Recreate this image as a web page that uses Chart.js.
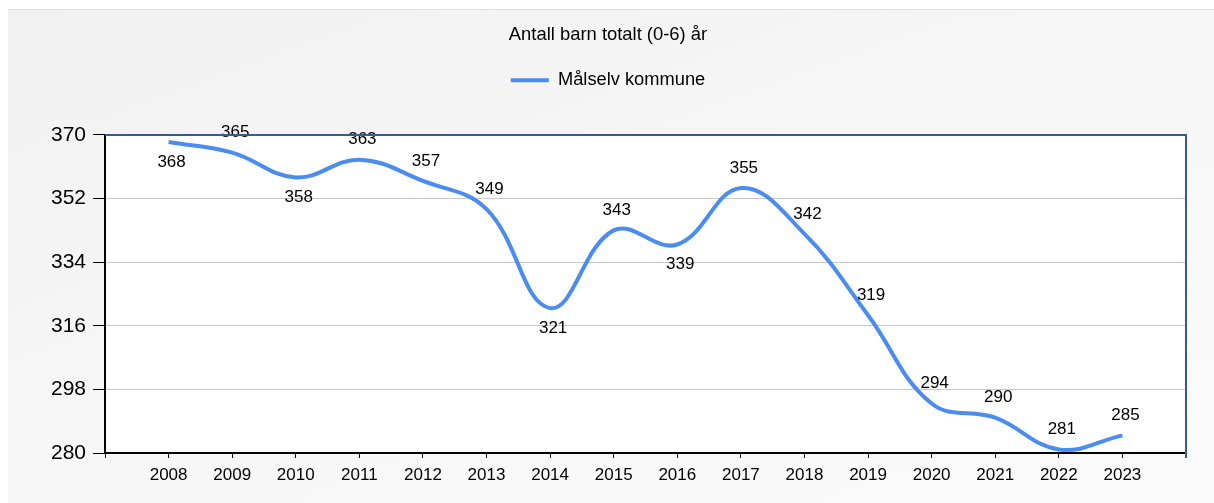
<!DOCTYPE html>
<html>
<head>
<meta charset="utf-8">
<script src="https://cdn.jsdelivr.net/npm/chart.js@4.4.1/dist/chart.umd.min.js"></script>
<style>
    html, body { margin: 0; padding: 0; background: #fff; }
    body { width: 1214px; height: 503px; position: relative; overflow: hidden; }
    #panel {
        position: absolute; left: 8px; top: 9px; right: 0; bottom: 0;
        border-top: 1px solid #e0e0e0;
        background: linear-gradient(160deg, #f1f1f1 0%, #f6f6f6 45%, #fbfbfb 100%);
    }
    #wrap { position: absolute; left: 0; top: 0; width: 1214px; height: 503px; }
</style>
</head>
<body>
<div id="panel"></div>
<div id="wrap"><canvas id="chart"></canvas></div>
<script>
const years = [2008, 2009, 2010, 2011, 2012, 2013, 2014, 2015, 2016, 2017, 2018, 2019, 2020, 2021, 2022, 2023];
const children = [368, 365, 358, 363, 357, 349, 321, 343, 339, 355, 342, 319, 294, 290, 281, 285];
const yTicks = [280, 298, 316, 334, 352, 370];
const xTicks = [2007].concat(years, [2024]);

const FONT = "'Liberation Sans', Arial, sans-serif";

// white plot area
const plotBackground = {
    id: 'plotBackground',
    beforeDraw(chart) {
        const {ctx, chartArea: a} = chart;
        ctx.save();
        ctx.fillStyle = '#fff';
        ctx.fillRect(a.left, a.top, a.right - a.left, a.bottom - a.top);
        ctx.restore();
    }
};

// dark blue top and right edges of the plot
const plotFrame = {
    id: 'plotFrame',
    afterDraw(chart) {
        const {ctx, chartArea: a} = chart;
        ctx.save();
        ctx.strokeStyle = '#3b5a8a';
        ctx.lineWidth = 2;
        ctx.beginPath();
        ctx.moveTo(a.left, a.top);
        ctx.lineTo(a.right, a.top);
        ctx.lineTo(a.right, a.bottom + 5);
        ctx.stroke();
        ctx.restore();
    }
};

// value labels above / below the points
const valueLabels = {
    id: 'valueLabels',
    afterDatasetsDraw(chart, args, opts) {
        const {ctx} = chart;
        const meta = chart.getDatasetMeta(0);
        ctx.save();
        ctx.font = opts.font;
        ctx.fillStyle = opts.color;
        ctx.textAlign = 'center';
        ctx.textBaseline = 'middle';
        meta.data.forEach((pt, i) => {
            const below = opts.below.includes(i);
            ctx.fillText(String(children[i]), pt.x + opts.dx, pt.y + (below ? opts.offset : -opts.offset));
        });
        ctx.restore();
    }
};

new Chart(document.getElementById('chart'), {
    type: 'line',
    data: {
        datasets: [{
            label: 'Målselv kommune',
            data: years.map((y, i) => ({x: y, y: children[i]})),
            borderColor: '#4a8cef',
            backgroundColor: '#4a8cef',
            borderWidth: 4,
            tension: 0.4,
            pointRadius: 0,
            pointHoverRadius: 0
        }]
    },
    options: {
        responsive: true,
        maintainAspectRatio: false,
        devicePixelRatio: 1,
        animation: false,
        layout: {padding: {left: 30, right: 28, top: 0, bottom: 0}},
        scales: {
            x: {
                type: 'linear',
                min: 2007,
                max: 2024,
                afterBuildTicks: (axis) => { axis.ticks = xTicks.map(v => ({value: v})); },
                afterFit: (axis) => { axis.height = 50; },
                ticks: {
                    autoSkip: false,
                    maxRotation: 0,
                    padding: 7,
                    color: '#000',
                    font: {family: FONT, size: 17},
                    callback: (v) => years.includes(v) ? String(v) : ''
                },
                grid: {drawOnChartArea: false, tickLength: 5, tickColor: '#000'},
                border: {color: '#000', width: 2}
            },
            y: {
                min: 280,
                max: 370,
                afterBuildTicks: (axis) => { axis.ticks = yTicks.map(v => ({value: v})); },
                afterFit: (axis) => { axis.width = 75; },
                ticks: {
                    padding: 7,
                    color: '#000',
                    font: {family: FONT, size: 21}
                },
                grid: {color: '#c9c9c9', lineWidth: 1, tickLength: 12, tickColor: '#000'},
                border: {color: '#000', width: 2}
            }
        },
        plugins: {
            title: {
                display: true,
                text: 'Antall barn totalt (0-6) år',
                color: '#000',
                font: {family: FONT, size: 18.4, weight: 'normal'},
                padding: {top: 24, bottom: 15}
            },
            subtitle: {
                display: true,
                text: ' ',
                weight: 500,
                font: {family: FONT, size: 13},
                padding: {top: 0, bottom: 20}
            },
            legend: {
                display: true,
                labels: {
                    usePointStyle: true,
                    pointStyle: 'line',
                    pointStyleWidth: 38,
                    boxHeight: 18,
                    color: '#000',
                    font: {family: FONT, size: 18.3}
                }
            },
            tooltip: {enabled: false},
            valueLabels: {
                font: '17px ' + FONT,
                color: '#000',
                offset: 20,
                dx: 3,
                below: [0, 2, 6, 8]
            }
        }
    },
    plugins: [plotBackground, plotFrame, valueLabels]
});
</script>
</body>
</html>
